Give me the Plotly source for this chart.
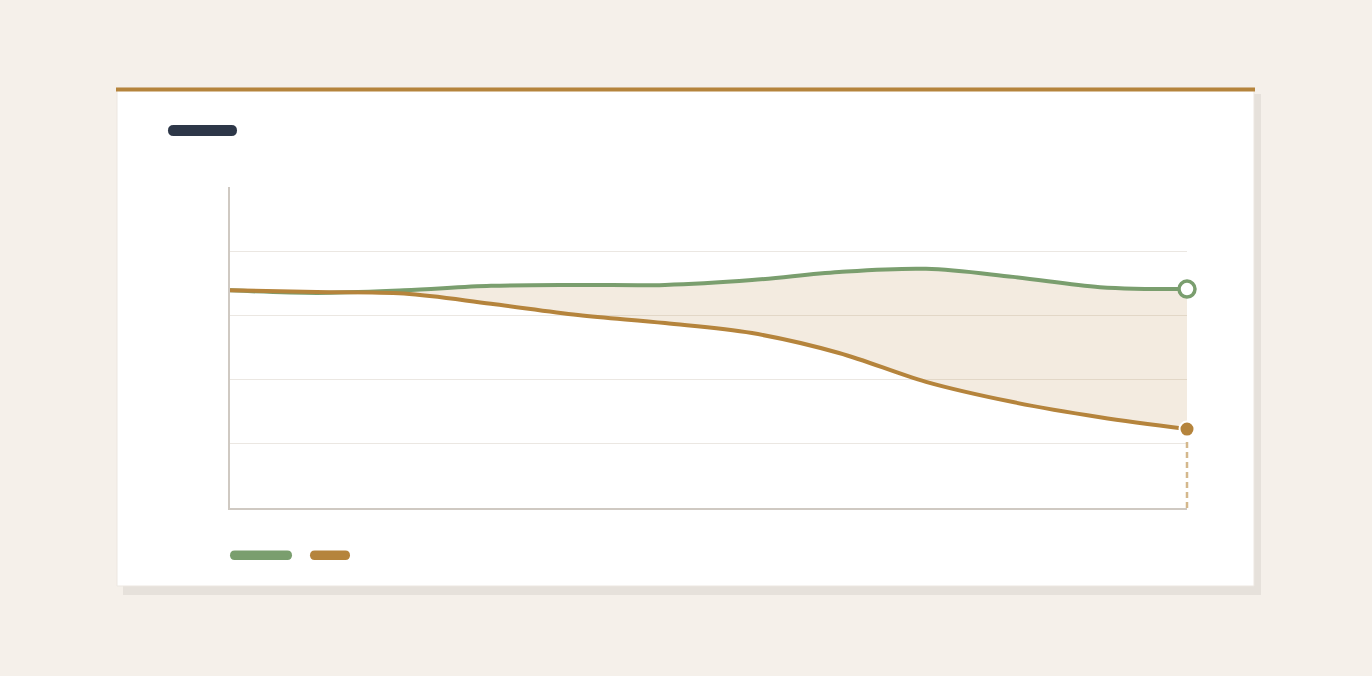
import plotly.graph_objects as go

months = ["Jan", "Feb", "Mar", "Apr", "May", "Jun", "Jul", "Aug", "Sep", "Oct", "Nov", "Dec"]
series_a = [67.8, 67.0, 67.8, 69.2, 69.5, 69.5, 71.0, 73.5, 74.5, 72.0, 68.8, 68.2]
series_b = [67.8, 67.3, 66.8, 63.6, 60.1, 57.6, 54.5, 48.3, 39.3, 33.0, 28.3, 24.6]
y_ticks = [20, 40, 60, 80]
Y_MAX = 100

GREEN = "#7a9e6e"
GOLD = "#b5843c"
BG = "#f5f0ea"

W, H = 1372, 676
L, R, T, B = 230, 1187, 187, 508


def X(px):
    return (px - L) / (R - L)


def Y(py):
    return (B - py) / (B - T)


def rrect(x0, y0, x1, y1, r):
    pts = [
        ("M", [(x0 + r, y0)]), ("L", [(x1 - r, y0)]), ("Q", [(x1, y0), (x1, y0 + r)]),
        ("L", [(x1, y1 - r)]), ("Q", [(x1, y1), (x1 - r, y1)]), ("L", [(x0 + r, y1)]),
        ("Q", [(x0, y1), (x0, y1 - r)]), ("L", [(x0, y0 + r)]), ("Q", [(x0, y0), (x0 + r, y0)]),
    ]
    s = ""
    for cmd, ps in pts:
        s += cmd + " " + " ".join(f"{X(a):.5f},{Y(b):.5f}" for a, b in ps) + " "
    return s + "Z"


fig = go.Figure()
fig.add_trace(go.Scatter(
    x=months, y=series_a, mode="lines", line=dict(color=GREEN, width=4, shape="spline", smoothing=1.0),
    hoverinfo="skip", showlegend=False))
fig.add_trace(go.Scatter(
    x=months, y=series_b, mode="lines", line=dict(color=GOLD, width=4, shape="spline", smoothing=1.0),
    fill="tonexty", fillcolor="rgba(181,132,60,0.16)", hoverinfo="skip", showlegend=False))
fig.add_trace(go.Scatter(
    x=[months[-1]], y=[series_a[-1]], mode="markers", cliponaxis=False,
    marker=dict(size=16, color="white", line=dict(color=GREEN, width=3.5)),
    hoverinfo="skip", showlegend=False))
fig.add_trace(go.Scatter(
    x=[months[-1]], y=[series_b[-1]], mode="markers", cliponaxis=False,
    marker=dict(size=15, color=GOLD, line=dict(color="white", width=2)),
    hoverinfo="skip", showlegend=False))

shapes = [
    # shadow
    dict(type="rect", xref="paper", yref="paper", x0=X(123), x1=X(1261), y0=Y(94), y1=Y(595),
         fillcolor="#e6e1db", line=dict(width=0), layer="below"),
    # card
    dict(type="rect", xref="paper", yref="paper", x0=X(117), x1=X(1254), y0=Y(88), y1=Y(586),
         fillcolor="white", line=dict(color="#ece7e1", width=1), layer="below"),
    # top accent
    dict(type="rect", xref="paper", yref="paper", x0=X(116), x1=X(1255), y0=Y(87.5), y1=Y(91.5),
         fillcolor=GOLD, line=dict(width=0), layer="below"),
    # title placeholder
    dict(type="path", xref="paper", yref="paper", path=rrect(168, 125, 237, 136, 5.5),
         fillcolor="#2d3748", line=dict(width=0), layer="below"),
    # legend placeholders
    dict(type="path", xref="paper", yref="paper", path=rrect(230, 550.5, 292, 560, 4.7),
         fillcolor=GREEN, line=dict(width=0), layer="below"),
    dict(type="path", xref="paper", yref="paper", path=rrect(310, 550.5, 350, 560, 4.7),
         fillcolor=GOLD, line=dict(width=0), layer="below"),
    # dashed drop line from last value of series_b to the baseline
    dict(type="line", xref="paper", yref="paper", x0=1, x1=1, y0=0,
         y1=series_b[-1] / Y_MAX - 9 / (B - T),
         line=dict(color="#d4b88d", width=2.5, dash="6px,4px"), layer="above"),
]

fig.update_layout(
    width=W, height=H,
    margin=dict(l=L, r=W - R, t=T, b=H - B, pad=0),
    paper_bgcolor=BG, plot_bgcolor="rgba(0,0,0,0)",
    shapes=shapes,
    xaxis=dict(range=[0, len(months) - 1], showgrid=False, zeroline=False, showticklabels=False,
               ticks="", showline=True, linecolor="#cfc9c2", linewidth=1.5, fixedrange=True),
    yaxis=dict(range=[0, Y_MAX], tickvals=y_ticks, showgrid=True, gridcolor="#ebe7e2", gridwidth=1,
               zeroline=False, showticklabels=False, ticks="", showline=True, linecolor="#cfc9c2",
               linewidth=1.5, fixedrange=True),
    showlegend=False,
)

fig.write_html("out.html", config={"displayModeBar": False},
               post_script="document.body.style.margin='0';document.body.style.background='" + BG + "';")
